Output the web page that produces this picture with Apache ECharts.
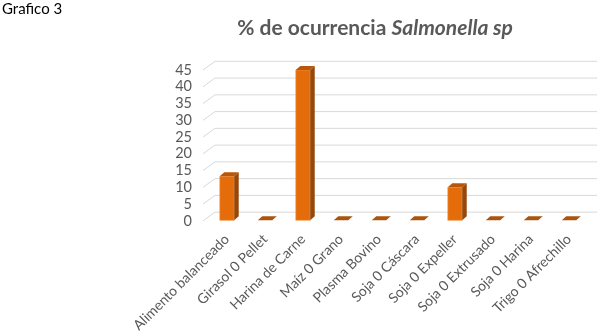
<!DOCTYPE html>
<html>
<head>
<meta charset="utf-8">
<script src="https://cdn.jsdelivr.net/npm/echarts@6/dist/echarts.min.js"></script>
<style>html,body{margin:0;padding:0;background:#fff;}#c{width:600px;height:335px;}</style>
</head>
<body>
<div id="c"></div>
<script>
const categories = ["Alimento balanceado","Girasol 0 Pellet","Harina de Carne","Maíz 0 Grano","Plasma Bovino","Soja 0 Cáscara","Soja 0 Expeller","Soja 0 Extrusado","Soja 0 Harina","Trigo 0 Afrechillo"];
const values = [13.3, 0, 45, 0, 0, 0, 10, 0, 0, 0];
const yTicks = [0,5,10,15,20,25,30,35,40,45];
const titleMain = "% de ocurrencia ";
const titleItalic = "Salmonella sp";
const sheetLabel = "Grafico 3";

const FONT = "Lato";
const DX = 4.5, DY = -4;      // bar depth offset
const WX = 12, WY = -8.7;     // wall depth offset

const chart = echarts.init(document.getElementById('c'), null, {renderer:'canvas'});
chart.setOption({
  backgroundColor:'#fff',
  animation:false,
  title:{
    text:'{a|'+titleMain+'}{b|'+titleItalic+'}',
    left:370, top:13, textAlign:'center',
    textStyle:{rich:{
      a:{fontFamily:FONT,fontSize:21,fontWeight:'bold',color:'#595959'},
      b:{fontFamily:FONT,fontSize:21,fontWeight:'bold',fontStyle:'italic',color:'#595959'}
    }}
  },
  graphic:[{type:'text',left:2,top:2,style:{text:sheetLabel,font:'15px '+FONT,fill:'#000'}}],
  grid:{left:208,top:70,width:380,bottom:114,containLabel:false},
  xAxis:{type:'category',data:categories,
    axisLine:{show:false},axisTick:{show:false},
    axisLabel:{interval:0,rotate:45,margin:16,color:'#595959',fontFamily:FONT,fontSize:14}},
  yAxis:{type:'value',min:0,max:45,interval:5,
    axisLine:{show:false},axisTick:{show:false},splitLine:{show:false},
    axisLabel:{margin:16,color:'#595959',fontFamily:FONT,fontSize:14.5}},
  series:[
    {type:'custom',z:1,silent:true,
     data:yTicks.map(v=>[0,v]),
     renderItem:function(params,api){
       const cs = params.coordSys;
       const y = api.coord([0,api.value(1)])[1];
       const x0 = cs.x-5;
       return {type:'polyline',shape:{points:[[x0,y],[x0+WX,y+WY],[597,y+WY]]},
               style:{stroke:'#D9D9D9',lineWidth:1,fill:null}};
     }},
    {type:'custom',z:2,silent:true,
     data:values.map((v,i)=>[i,v]),
     renderItem:function(params,api){
       const i = api.value(0), v = api.value(1);
       const base = api.coord([i,0]);
       const top = api.coord([i,v]);
       const w = api.size([1,0])[0]*0.38;
       const x0 = base[0]-w/2, yb = base[1]-0.5, yt = top[1];
       const children = [];
       if (v > 0) {
         children.push({type:'rect',shape:{x:x0,y:yt,width:w,height:yb-yt},
           style:{fill:'#E46C0A',stroke:'#F39A4A',lineWidth:0.6}});
         children.push({type:'polygon',shape:{points:[[x0+w,yt],[x0+w+DX,yt+DY],[x0+w+DX,yb+DY],[x0+w,yb]]},
           style:{fill:'#97470A'}});
         children.push({type:'polygon',shape:{points:[[x0,yt],[x0+DX,yt+DY],[x0+w+DX,yt+DY],[x0+w,yt]]},
           style:{fill:'#B8570B'}});
       } else {
         children.push({type:'polygon',shape:{points:[[x0,yb],[x0+DX,yb+DY],[x0+w+DX,yb+DY],[x0+w,yb]]},
           style:{fill:'#A9540F'}});
       }
       return {type:'group',children:children};
     }}
  ]
});
</script>
</body>
</html>
